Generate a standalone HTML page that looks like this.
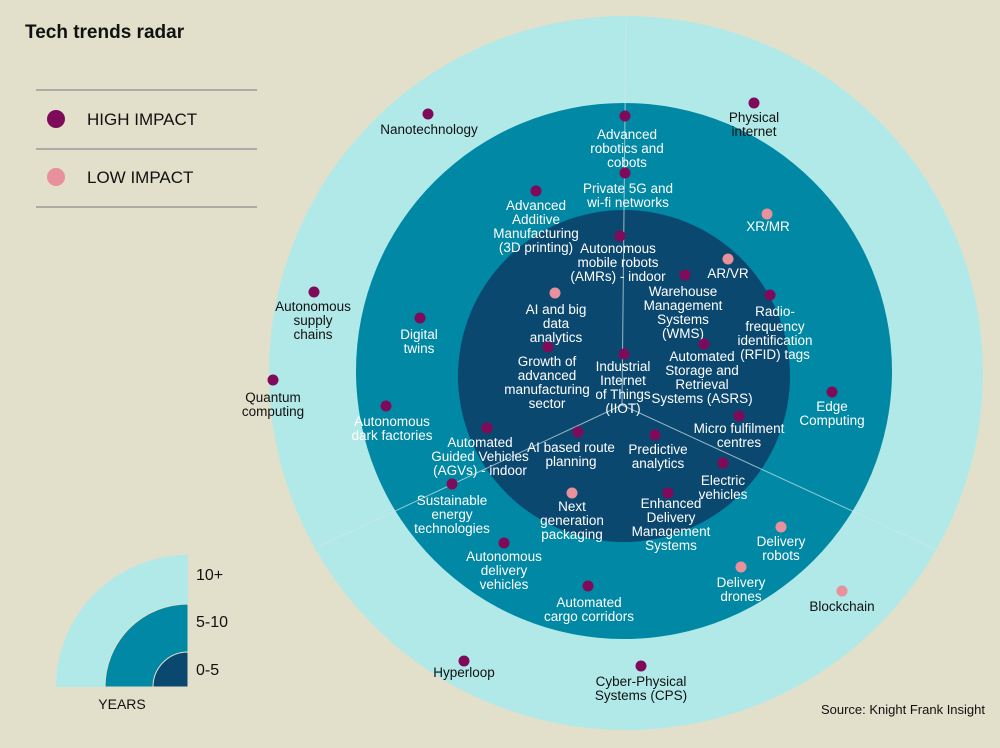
<!DOCTYPE html>
<html><head><meta charset="utf-8"><style>
html,body{margin:0;padding:0;background:#e2e0ca;}
svg{display:block;font-family:"Liberation Sans",Arial,sans-serif;}
.w{fill:#fff;font-size:13.5px;text-anchor:middle;}
.b{fill:#111;font-size:13.5px;text-anchor:middle;}
.h{fill:#800a5a;}
.l{fill:#e8909c;}
</style></head><body>
<svg width="1000" height="748" viewBox="0 0 1000 748">
<rect width="1000" height="748" fill="#e2e0ca"/>
<circle cx="626" cy="373" r="357" fill="#b0e9e8"/>
<circle cx="624" cy="371" r="268" fill="#0088a4"/>
<circle cx="624" cy="376" r="166" fill="#0b4870"/>
<g stroke="#cfe9ea" stroke-width="1" opacity="0.7">
<line x1="622" y1="405" x2="626" y2="18"/>
<line x1="622" y1="405" x2="318" y2="547"/>
<line x1="622" y1="405" x2="937" y2="550"/>
</g>
<text x="25" y="38" font-size="19" font-weight="bold" fill="#111">Tech trends radar</text>
<g stroke="#999" stroke-width="1.5"><line x1="36" y1="90" x2="257" y2="90"/><line x1="36" y1="149" x2="257" y2="149"/><line x1="36" y1="207" x2="257" y2="207"/></g>
<circle cx="56" cy="119" r="9" class="h"/><text x="87" y="125" font-size="17" fill="#111">HIGH IMPACT</text>
<circle cx="56" cy="177" r="9" class="l"/><text x="87" y="183" font-size="17" fill="#111">LOW IMPACT</text>
<path d="M188,687 L56,687 A132,132 0 0 1 188,555 Z" fill="#b0e9e8"/>
<path d="M188,687 L105,687 A83,83 0 0 1 188,604 Z" fill="#0088a4" stroke="#e2e0ca" stroke-width="1"/>
<path d="M188,687 L153,687 A35,35 0 0 1 188,652 Z" fill="#0b4870" stroke="#e2e0ca" stroke-width="1"/>
<text x="196" y="580" font-size="16" fill="#111">10+</text>
<text x="196" y="627" font-size="16" fill="#111">5-10</text>
<text x="196" y="675" font-size="16" fill="#111">0-5</text>
<text x="122" y="709" font-size="14" fill="#111" text-anchor="middle">YEARS</text>
<text x="985" y="714" font-size="13" fill="#111" text-anchor="end">Source: Knight Frank Insight</text>

<!-- outer -->
<circle cx="428" cy="114" r="5.5" class="h"/><text class="b" x="429" y="134">Nanotechnology</text>
<circle cx="754" cy="103" r="5.5" class="h"/><text class="b" x="754" y="122">Physical</text><text class="b" x="754" y="136">internet</text>
<circle cx="314" cy="292" r="5.5" class="h"/><text class="b" x="313" y="311">Autonomous</text><text class="b" x="313" y="325">supply</text><text class="b" x="313" y="339">chains</text>
<circle cx="273" cy="380" r="5.5" class="h"/><text class="b" x="273" y="402">Quantum</text><text class="b" x="273" y="416">computing</text>
<circle cx="842" cy="591" r="5.5" class="l"/><text class="b" x="842" y="611">Blockchain</text>
<circle cx="464" cy="661" r="5.5" class="h"/><text class="b" x="464" y="677">Hyperloop</text>
<circle cx="641" cy="666" r="5.5" class="h"/><text class="b" x="641" y="686">Cyber-Physical</text><text class="b" x="641" y="700">Systems (CPS)</text>

<!-- middle -->
<circle cx="625" cy="116" r="5.5" class="h"/><text class="w" x="627" y="139">Advanced</text><text class="w" x="627" y="153">robotics and</text><text class="w" x="627" y="167">cobots</text>
<circle cx="625" cy="173" r="5.5" class="h"/><text class="w" x="628" y="193">Private 5G and</text><text class="w" x="628" y="207">wi-fi networks</text>
<circle cx="536" cy="191" r="5.5" class="h"/><text class="w" x="536" y="210">Advanced</text><text class="w" x="536" y="224">Additive</text><text class="w" x="536" y="238">Manufacturing</text><text class="w" x="536" y="252">(3D printing)</text>
<circle cx="767" cy="214" r="5.5" class="l"/><text class="w" x="768" y="231">XR/MR</text>
<circle cx="770" cy="295" r="5.5" class="h"/><text class="w" x="775" y="316">Radio-</text><text class="w" x="775" y="331">frequency</text><text class="w" x="775" y="345">identification</text><text class="w" x="775" y="359">(RFID) tags</text>
<circle cx="420" cy="318" r="5.5" class="h"/><text class="w" x="419" y="339">Digital</text><text class="w" x="419" y="353">twins</text>
<circle cx="386" cy="406" r="5.5" class="h"/><text class="w" x="392" y="426">Autonomous</text><text class="w" x="392" y="440">dark factories</text>
<circle cx="832" cy="392" r="5.5" class="h"/><text class="w" x="832" y="411">Edge</text><text class="w" x="832" y="425">Computing</text>
<circle cx="452" cy="484" r="5.5" class="h"/><text class="w" x="452" y="505">Sustainable</text><text class="w" x="452" y="519">energy</text><text class="w" x="452" y="533">technologies</text>
<circle cx="504" cy="543" r="5.5" class="h"/><text class="w" x="504" y="561">Autonomous</text><text class="w" x="504" y="575">delivery</text><text class="w" x="504" y="589">vehicles</text>
<circle cx="588" cy="586" r="5.5" class="h"/><text class="w" x="589" y="607">Automated</text><text class="w" x="589" y="621">cargo corridors</text>
<circle cx="741" cy="567" r="5.5" class="l"/><text class="w" x="741" y="587">Delivery</text><text class="w" x="741" y="601">drones</text>
<circle cx="781" cy="527" r="5.5" class="l"/><text class="w" x="781" y="546">Delivery</text><text class="w" x="781" y="560">robots</text>

<!-- inner -->
<circle cx="620" cy="236" r="5.5" class="h"/><text class="w" x="618" y="253">Autonomous</text><text class="w" x="618" y="267">mobile robots</text><text class="w" x="618" y="281">(AMRs) - indoor</text>
<circle cx="728" cy="259" r="5.5" class="l"/><text class="w" x="728" y="278">AR/VR</text>
<circle cx="685" cy="275" r="5.5" class="h"/><text class="w" x="683" y="296">Warehouse</text><text class="w" x="683" y="310">Management</text><text class="w" x="683" y="324">Systems</text><text class="w" x="683" y="338">(WMS)</text>
<circle cx="555" cy="293" r="5.5" class="l"/><text class="w" x="556" y="314">AI and big</text><text class="w" x="556" y="328">data</text><text class="w" x="556" y="342">analytics</text>
<circle cx="548" cy="347" r="5.5" class="h"/><text class="w" x="547" y="366">Growth of</text><text class="w" x="547" y="380">advanced</text><text class="w" x="547" y="394">manufacturing</text><text class="w" x="547" y="408">sector</text>
<circle cx="624" cy="354" r="5.5" class="h"/><text class="w" x="623" y="371">Industrial</text><text class="w" x="623" y="385">Internet</text><text class="w" x="623" y="399">of Things</text><text class="w" x="623" y="413">(IIOT)</text>
<circle cx="704" cy="344" r="5.5" class="h"/><text class="w" x="702" y="361">Automated</text><text class="w" x="702" y="375">Storage and</text><text class="w" x="702" y="389">Retrieval</text><text class="w" x="702" y="403">Systems (ASRS)</text>
<circle cx="739" cy="416" r="5.5" class="h"/><text class="w" x="739" y="433">Micro fulfilment</text><text class="w" x="739" y="447">centres</text>
<circle cx="655" cy="435" r="5.5" class="h"/><text class="w" x="658" y="454">Predictive</text><text class="w" x="658" y="468">analytics</text>
<circle cx="578" cy="432" r="5.5" class="h"/><text class="w" x="571" y="452">AI based route</text><text class="w" x="571" y="466">planning</text>
<circle cx="487" cy="428" r="5.5" class="h"/><text class="w" x="480" y="447">Automated</text><text class="w" x="480" y="461">Guided Vehicles</text><text class="w" x="480" y="475">(AGVs) - indoor</text>
<circle cx="723" cy="463" r="5.5" class="h"/><text class="w" x="723" y="485">Electric</text><text class="w" x="723" y="499">vehicles</text>
<circle cx="668" cy="493" r="5.5" class="h"/><text class="w" x="671" y="508">Enhanced</text><text class="w" x="671" y="522">Delivery</text><text class="w" x="671" y="536">Management</text><text class="w" x="671" y="550">Systems</text>
<circle cx="572" cy="493" r="5.5" class="l"/><text class="w" x="572" y="511">Next</text><text class="w" x="572" y="525">generation</text><text class="w" x="572" y="539">packaging</text>
</svg>
</body></html>
